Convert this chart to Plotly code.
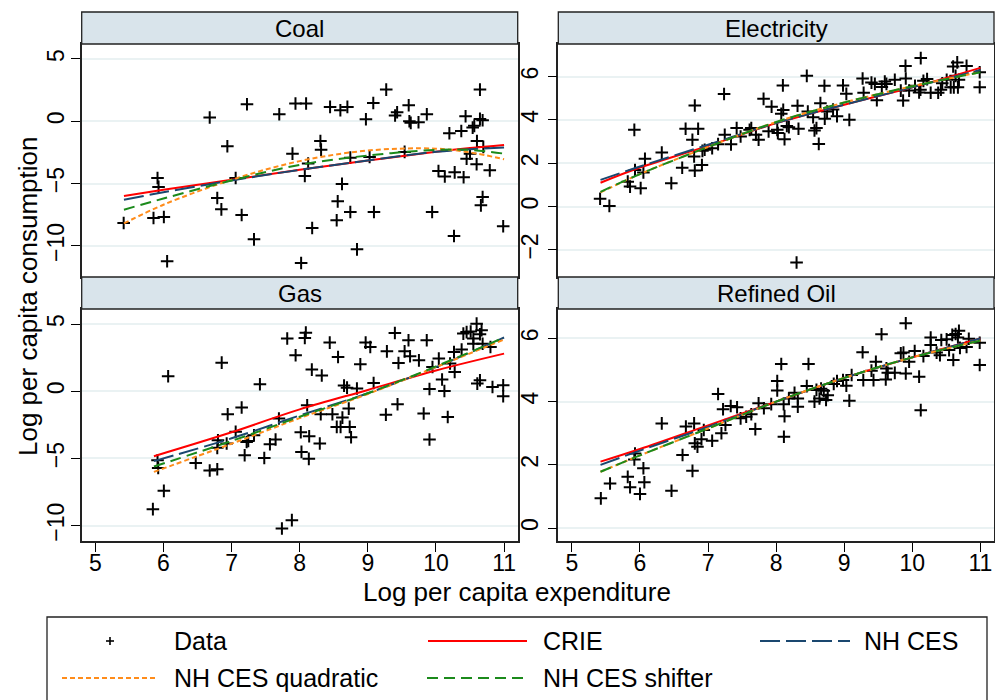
import plotly.graph_objects as go

# ---------------- Data: scatter points ----------------
coal_x = [5.416, 5.913, 5.928, 5.854, 6.006, 6.054, 6.679, 6.938, 6.79, 6.85, 7.06, 7.148, 7.226, 7.329,
          7.70, 7.894, 7.938, 8.094, 8.021, 8.304, 8.314, 8.075, 8.124, 8.183, 8.446, 8.597, 8.70, 8.621,
          8.558, 8.543, 8.743, 8.743, 8.841, 8.972, 9.08, 9.09, 9.026, 9.27, 9.40, 9.43, 9.60, 9.61, 9.63,
          9.744, 9.866, 9.54, 9.944, 10.037, 10.13, 10.197, 10.275, 10.265, 10.372, 10.406, 10.435, 10.45,
          10.50, 10.539, 10.563, 10.597, 10.602, 10.646, 10.646, 10.685, 10.695, 10.685, 10.66, 10.79, 10.987]
coal_y = [-8.17, -4.55, -5.27, -7.76, -7.68, -11.24, 0.30, -2.01, -6.16, -7.07, -4.55, -7.52, 1.37, -9.48,
          0.56, -2.6, 1.42, 1.42, -11.38, -1.58, -2.28, -4.39, -3.4, -8.57, 1.15, 0.88, 1.15, -5.03,
          -6.43, -7.95, -7.28, -2.92, -10.28, 0.16, 1.47, -7.28, -2.87, 2.54, 0.46, 0.72, 1.29, 0.0, -0.13,
          -0.08, 0.56, -2.46, -7.28, -3.99, -4.44, -0.96, -4.1, -9.21, -0.78, -4.5, 0.40, -3.0,
          -2.6, -0.51, -0.37, -3.45, -1.58, 2.54, 0.19, 0.08, -2.06, -6.08, -6.75, -3.94, -8.43]

elec_x = [5.414, 5.55, 5.917, 5.927, 5.82, 5.854, 6.01, 6.05, 6.073, 6.32, 6.46, 6.62, 6.67, 6.77, 6.795,
          6.805, 6.805, 6.854, 6.91, 6.917, 6.95, 7.06, 7.147, 7.235, 7.245, 7.337, 7.42, 7.478, 7.61,
          7.635, 7.703, 7.742, 7.815, 7.889, 7.933, 8.016, 8.025, 8.075, 8.104, 8.099, 8.123, 8.157,
          8.187, 8.314, 8.328, 8.45, 8.465, 8.543, 8.563, 8.592, 8.626, 8.65, 8.709, 8.714, 8.748, 8.836,
          8.894, 8.982, 9.031, 9.075, 9.27, 9.285, 9.40, 9.45, 9.479, 9.552, 9.596, 9.62, 9.743, 9.831,
          9.865, 9.9, 9.904, 9.953, 10.04, 10.1, 10.12, 10.124, 10.163, 10.217, 10.27, 10.38, 10.42,
          10.44, 10.505, 10.564, 10.6, 10.61, 10.636, 10.66, 10.67, 10.685, 10.797, 10.99, 10.99, 8.30]
elec_y = [0.36, 0.03, 3.54, 1.69, 1.15, 0.92, 0.85, 1.57, 2.2, 2.49, 1.08, 1.79, 3.59, 3.08, 2.31,
          1.66, 4.66, 3.59, 1.92, 2.57, 2.62, 2.69, 2.88, 5.19, 3.31, 2.87, 3.62, 3.23, 3.54,
          3.62, 3.31, 3.08, 4.97, 3.47, 4.61, 3.54, 3.39, 4.28, 4.46, 5.59, 3.11, 3.72,
          3.66, 4.65, 3.59, 6.03, 4.38, 4.12, 3.51, 3.62, 2.89, 4.77, 5.57, 4.05, 4.38, 4.48,
          4.17, 5.59, 5.2, 4.0, 5.91, 5.25, 5.72, 5.66, 4.91, 5.52, 5.77, 5.66, 5.85, 5.35,
          4.89, 6.49, 5.91, 5.35, 5.57, 5.26, 5.39, 6.85, 5.8, 5.88, 5.25, 5.25, 5.39,
          5.69, 5.85, 5.5, 6.46, 5.5, 6.03, 6.65, 5.5, 5.85, 6.49, 6.2, 5.51, -2.58]

gas_x = [5.845, 5.913, 5.923, 6.006, 6.069, 6.474, 6.679, 6.79, 6.79, 6.80, 6.855, 6.928, 6.943, 7.06,
         7.148, 7.192, 7.221, 7.245, 7.329, 7.416, 7.48, 7.563, 7.646, 7.695, 7.739, 7.817, 7.885, 7.94,
         8.016, 8.026, 8.075, 8.09, 8.11, 8.139, 8.134, 8.178, 8.295, 8.309, 8.324, 8.441, 8.48, 8.544,
         8.563, 8.627, 8.651, 8.695, 8.72, 8.734, 8.754, 8.60, 8.84, 8.89, 8.968, 9.036, 9.085, 9.265,
         9.28, 9.397, 9.436, 9.45, 9.54, 9.597, 9.62, 9.75, 9.82, 9.865, 9.905, 9.905, 9.949, 10.042,
         10.09, 10.124, 10.173, 10.207, 10.265, 10.275, 10.377, 10.402, 10.45, 10.51, 10.549, 10.549,
         10.597, 10.607, 10.646, 10.646, 10.67, 10.685, 10.8, 10.83, 10.987, 10.987]
gas_y = [-8.77, -5.13, -5.7, -7.41, 1.12, -5.33, -5.9, -5.8, -4.21, -3.64, 2.13, -3.89, -1.71, -3.02,
         -1.21, -4.76, -3.77, -3.7, -3.27, 0.52, -4.96, -3.94, -3.59, -2.03, -10.21, 3.92, -9.59, 2.68,
         -3.05, -4.51, 3.97, 4.36, -1.04, -3.35, -5.03, 1.61, -3.89, -1.71, 1.17, 3.62, -1.71, -2.65,
         2.55, -1.96, 0.42, 0.27, -1.29, -2.65, -3.42, -2.65, 0.2, 2.01, 3.62, 3.29, 0.62, -1.74,
         2.97, 4.33, -0.97, 2.1, 2.97, 3.79, 2.6, 2.3, -1.66, 3.79, -3.59, 0.17, 1.81, 2.43,
         0.87, 0.02, -1.91, 2.06, 2.92, 1.44, 3.1, 4.29, 4.4, 4.45, 3.92, 3.54,
         5.03, 0.57, 0.82, 4.24, 4.54, 3.54, 3.29, 0.32, 0.45, -0.37]

oil_x = [5.425, 5.56, 5.82, 5.854, 5.917, 5.927, 6.0, 6.05, 6.064, 6.32, 6.463, 6.625, 6.674, 6.771,
         6.795, 6.805, 6.844, 6.903, 6.937, 7.06, 7.147, 7.196, 7.22, 7.255, 7.333, 7.426, 7.478, 7.56,
         7.635, 7.694, 7.742, 7.82, 7.928, 8.016, 8.016, 8.075, 8.11, 8.123, 8.114, 8.187, 8.27, 8.318,
         8.318, 8.45, 8.475, 8.563, 8.592, 8.636, 8.66, 8.70, 8.733, 8.758, 8.846, 8.894, 8.982, 9.031,
         9.075, 9.109, 9.27, 9.28, 9.40, 9.43, 9.465, 9.548, 9.61, 9.62, 9.64, 9.743, 9.831, 9.87,
         9.904, 9.904, 9.953, 10.035, 10.1, 10.124, 10.163, 10.27, 10.27, 10.357, 10.406, 10.426,
         10.504, 10.54, 10.587, 10.602, 10.636, 10.67, 10.685, 10.7, 10.797, 10.83, 10.99, 10.99]
oil_y = [0.94, 1.41, 1.62, 1.29, 2.17, 2.36, 1.08, 1.89, 1.45, 3.31, 1.18, 2.31, 3.21, 1.81,
         3.31, 2.68, 2.57, 2.81, 3.1, 2.76, 4.24, 3.0, 3.76, 3.26, 3.86, 3.82, 3.47, 3.52,
         3.6, 3.13, 3.95, 3.79, 3.92, 4.65, 4.35, 5.19, 3.92, 3.54, 2.89, 4.1, 4.28, 3.84,
         4.1, 4.49, 5.19, 4.0, 4.37, 4.1, 4.41, 4.34, 4.05, 4.2, 4.56, 4.65, 4.68, 4.5,
         4.03, 4.84, 5.56, 4.68, 4.98, 4.68, 5.26, 6.13, 4.7, 5.05, 4.91, 4.91, 5.53, 5.55,
         6.48, 4.89, 5.26, 5.6, 4.79, 3.73, 5.44, 6.03, 5.79, 5.55, 5.47, 5.95,
         5.97, 5.63, 6.11, 5.32, 6.14, 6.03, 6.24, 5.7, 5.73, 5.99, 5.86, 5.16]

# ---------------- Data: fitted curves ----------------
coal_fit_x = [5.42, 6.0, 7.0, 8.0, 9.0, 10.0, 10.5, 11.0]
coal_crie = [-6.0, -5.5, -4.7, -3.9, -3.15, -2.45, -2.15, -1.9]
coal_nhces = [-6.3, -5.7, -4.75, -3.9, -3.15, -2.45, -2.25, -2.1]
coal_quad = [-8.2, -6.7, -4.7, -3.2, -2.35, -2.2, -2.5, -3.05]
coal_shift = [-7.1, -6.2, -4.75, -3.5, -2.75, -2.3, -2.3, -2.6]

elec_fit_x = [5.42, 6.0, 7.0, 8.0, 9.0, 10.0, 11.0]
elec_crie = [1.1, 1.8, 2.8, 3.85, 4.7, 5.5, 6.4]
elec_nhces = [1.23, 1.85, 2.85, 3.85, 4.7, 5.5, 6.3]
elec_quad = [0.65, 1.5, 2.75, 3.9, 4.8, 5.55, 6.2]
elec_shift = [0.68, 1.5, 2.75, 3.9, 4.8, 5.55, 6.2]

gas_fit_x = [5.86, 7.0, 8.0, 9.0, 10.0, 11.0]
gas_crie = [-4.83, -3.05, -1.35, 0.1, 1.55, 2.8]
gas_nhces = [-5.2, -3.5, -1.8, -0.15, 1.8, 4.0]
gas_quad = [-6.0, -3.9, -2.0, -0.2, 1.8, 3.85]
gas_shift = [-5.6, -3.7, -1.9, -0.15, 1.85, 4.0]

oil_fit_x = [5.42, 6.0, 7.0, 8.0, 9.0, 10.0, 11.0]
oil_crie = [2.1, 2.5, 3.25, 4.0, 4.75, 5.4, 6.0]
oil_nhces = [2.0, 2.45, 3.2, 4.0, 4.75, 5.4, 6.0]
oil_quad = [1.78, 2.3, 3.15, 4.0, 4.75, 5.4, 5.93]
oil_shift = [1.78, 2.3, 3.15, 4.0, 4.75, 5.4, 5.93]

panel_titles = ["Coal", "Electricity", "Gas", "Refined Oil"]
x_ticks = [5, 6, 7, 8, 9, 10, 11]
coal_yticks = [-10, -5, 0, 5]
elec_yticks = [-2, 0, 2, 4, 6]
gas_yticks = [-10, -5, 0, 5]
oil_yticks = [0, 2, 4, 6]

legend_labels = ["Data", "CRIE", "NH CES", "NH CES quadratic", "NH CES shifter"]

# ---------------- Styling ----------------
FONT = "Liberation Sans, Arial, sans-serif"
W, H = 995, 700
C_RED = "#FF0000"
C_NAVY = "#1A476F"
C_ORANGE = "#FF8C1A"
C_GREEN = "#1B8A1B"
DASH_NAVY = "20px,6px"
DASH_ORANGE = "5px,3px"
DASH_GREEN = "11px,6px"
GRID = "#EAF2F3"
STRIP = "#D9E4EB"


def px_x(p):
    return p / W


def px_y(p):
    return 1 - p / H


# panel geometry (page pixels)
col_px = [(81.7, 517.7), (558.3, 994.0)]
row_plot_px = [(44.0, 277.0), (309.0, 541.0)]
row_strip_px = [(12.0, 44.0), (277.0, 309.0)]

panels = [
    (coal_x, coal_y, coal_fit_x, coal_crie, coal_nhces, coal_quad, coal_shift, coal_yticks, [-12.5, 6.2]),
    (elec_x, elec_y, elec_fit_x, elec_crie, elec_nhces, elec_quad, elec_shift, elec_yticks, [-3.25, 7.5]),
    (gas_x, gas_y, gas_fit_x, gas_crie, gas_nhces, gas_quad, gas_shift, gas_yticks, [-11.14, 6.12]),
    (oil_x, oil_y, oil_fit_x, oil_crie, oil_nhces, oil_quad, oil_shift, oil_yticks, [-0.41, 6.93]),
]

fig = go.Figure()
layout = dict(
    width=W, height=H,
    margin=dict(l=0, r=0, t=0, b=0),
    paper_bgcolor="white", plot_bgcolor="white",
    showlegend=False,
    font=dict(family=FONT, color="black"),
)
shapes = []
annotations = []

for i, (sx, sy, fx, f_crie, f_nh, f_q, f_s, yt, yr) in enumerate(panels):
    row, col = divmod(i, 2)
    ax = "" if i == 0 else str(i + 1)
    xref, yref = "x" + ax, "y" + ax
    c0, c1 = col_px[col]
    r0, r1 = row_plot_px[row]

    fig.add_trace(go.Scatter(
        x=sx, y=sy, mode="markers", xaxis=xref, yaxis=yref,
        marker=dict(symbol="cross-thin", size=9, color="black", line=dict(color="black", width=2)),
        name="Data"))
    fig.add_trace(go.Scatter(x=fx, y=f_crie, mode="lines", xaxis=xref, yaxis=yref, line_shape="spline",
                             line=dict(color=C_RED, width=2), name="CRIE"))
    fig.add_trace(go.Scatter(x=fx, y=f_nh, mode="lines", xaxis=xref, yaxis=yref, line_shape="spline",
                             line=dict(color=C_NAVY, width=2, dash=DASH_NAVY), name="NH CES"))
    fig.add_trace(go.Scatter(x=fx, y=f_q, mode="lines", xaxis=xref, yaxis=yref, line_shape="spline",
                             line=dict(color=C_ORANGE, width=2, dash=DASH_ORANGE), name="NH CES quadratic"))
    fig.add_trace(go.Scatter(x=fx, y=f_s, mode="lines", xaxis=xref, yaxis=yref, line_shape="spline",
                             line=dict(color=C_GREEN, width=2, dash=DASH_GREEN), name="NH CES shifter"))

    bottom = row == 1
    layout["xaxis" + ax] = dict(
        domain=[px_x(c0), px_x(c1)], anchor=yref, range=[4.8, 11.2],
        tickvals=x_ticks if bottom else [], showticklabels=bottom,
        ticks="outside" if bottom else "", ticklen=9, tickwidth=1.3, tickcolor="black",
        tickfont=dict(size=23, family=FONT, color="black"), ticklabelstandoff=-8,
        showgrid=False, zeroline=False, automargin=False,
        showline=True, linecolor="#222222", linewidth=1.5, mirror=True,
    )
    layout["yaxis" + ax] = dict(
        domain=[px_y(r1), px_y(r0)], anchor=xref, range=yr,
        tickvals=yt, ticks="outside", ticklen=9, tickwidth=1.3, tickcolor="black",
        tickangle=-90, tickfont=dict(size=23, family=FONT, color="black"),
        ticklabelstandoff=-2 if col == 0 else 0,
        showgrid=True, gridcolor=GRID, gridwidth=2, zeroline=False, automargin=False,
        showline=True, linecolor="#222222", linewidth=1.5, mirror=True,
    )

    s0, s1 = row_strip_px[row]
    shapes.append(dict(type="rect", xref="paper", yref="paper",
                       x0=px_x(c0), x1=px_x(c1), y0=px_y(s1), y1=px_y(s0),
                       fillcolor=STRIP, line=dict(color="#222222", width=1.3), layer="above"))
    annotations.append(dict(text=panel_titles[i], xref="paper", yref="paper",
                            x=px_x((c0 + c1) / 2), y=px_y((s0 + s1) / 2),
                            xanchor="center", yanchor="middle", showarrow=False,
                            font=dict(size=24, family=FONT, color="black")))

# axis titles
annotations.append(dict(text="Log per capita expenditure", xref="paper", yref="paper",
                        x=px_x(517), y=px_y(592), xanchor="center", yanchor="middle",
                        showarrow=False, font=dict(size=26, family=FONT, color="black")))
annotations.append(dict(text="Log per capita consumption", xref="paper", yref="paper",
                        x=px_x(28), y=px_y(297), xanchor="center", yanchor="middle", textangle=-90,
                        showarrow=False, font=dict(size=26, family=FONT, color="black")))

# legend box
shapes.append(dict(type="rect", xref="paper", yref="paper",
                   x0=px_x(47), x1=px_x(987), y0=px_y(715), y1=px_y(617),
                   fillcolor="white", line=dict(color="#222222", width=1.3), layer="above"))

leg_row1, leg_row2 = 641, 678
# Data marker (cross)
shapes.append(dict(type="line", xref="paper", yref="paper", x0=px_x(106), x1=px_x(114),
                   y0=px_y(leg_row1), y1=px_y(leg_row1), line=dict(color="black", width=1.6), layer="above"))
shapes.append(dict(type="line", xref="paper", yref="paper", x0=px_x(110), x1=px_x(110),
                   y0=px_y(leg_row1 - 4), y1=px_y(leg_row1 + 4), line=dict(color="black", width=1.6), layer="above"))

leg_lines = [
    (428, 527, leg_row1, C_RED, "solid"),
    (760, 850, leg_row1, C_NAVY, DASH_NAVY),
    (62, 155, leg_row2, C_ORANGE, DASH_ORANGE),
    (427, 527, leg_row2, C_GREEN, DASH_GREEN),
]
for x0, x1, yy, col_, dash in leg_lines:
    shapes.append(dict(type="line", xref="paper", yref="paper", x0=px_x(x0), x1=px_x(x1),
                       y0=px_y(yy), y1=px_y(yy), line=dict(color=col_, width=2, dash=dash), layer="above"))

leg_text_pos = [(172, leg_row1), (541, leg_row1), (862, leg_row1), (172, leg_row2), (541, leg_row2)]
for lab, (tx, ty) in zip(legend_labels, leg_text_pos):
    annotations.append(dict(text=lab, xref="paper", yref="paper", x=px_x(tx), y=px_y(ty),
                            xanchor="left", yanchor="middle", showarrow=False,
                            font=dict(size=25, family=FONT, color="black")))

layout["shapes"] = shapes
layout["annotations"] = annotations
fig.update_layout(**layout)
fig.write_html(
    "out.html",
    config={"displayModeBar": False},
    post_script="document.body.style.margin='0';document.body.style.overflow='hidden';",
)
